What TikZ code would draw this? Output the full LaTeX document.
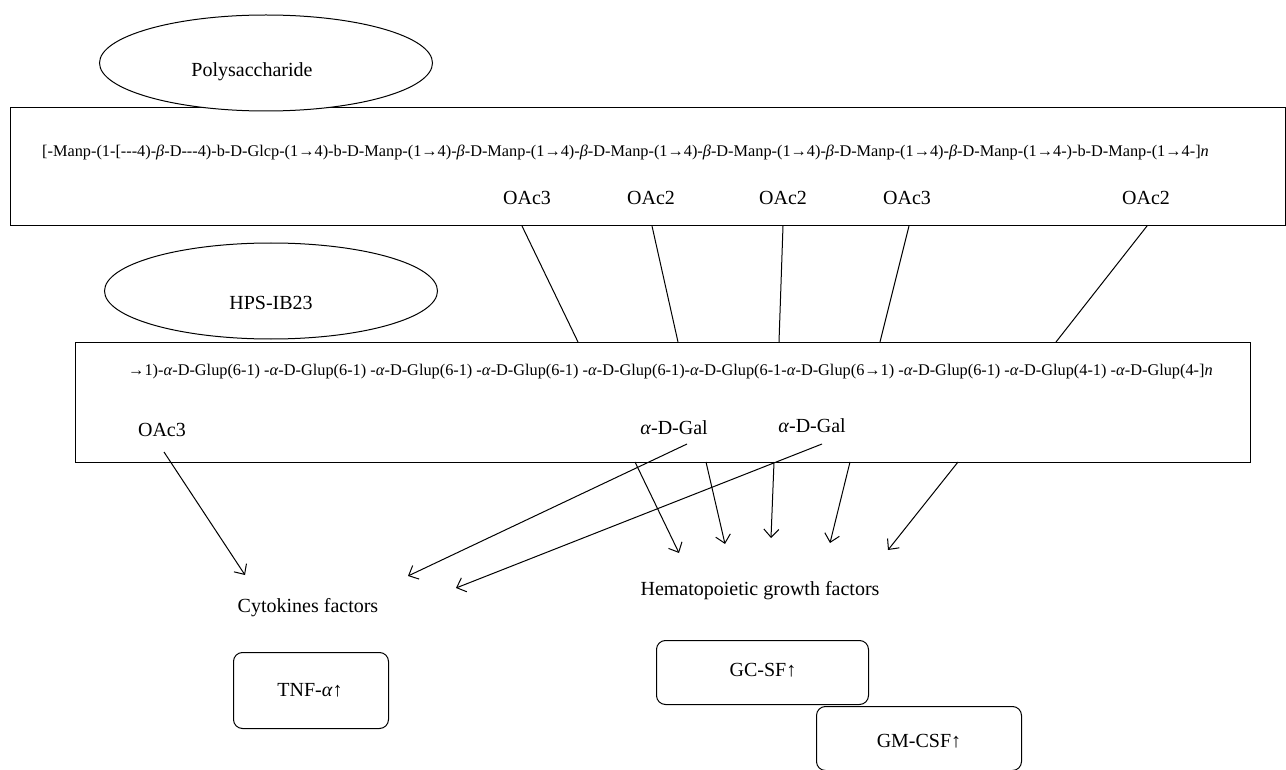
\documentclass[tikz,border=0pt]{standalone}
\usepackage{fontspec}
\setmainfont{Liberation Serif}
\newfontfamily\chainfont{Liberation Serif}
\usetikzlibrary{arrows.meta,shapes.geometric}
\begin{document}
\begin{tikzpicture}[x=1pt,y=-1pt,
  lbl/.style={font=\fontsize{20}{24}\selectfont, inner sep=0pt},
  chain/.style={font=\chainfont\fontsize{16.3}{18}\selectfont, inner sep=0pt, anchor=base west},
  box/.style={draw, line width=1pt, inner sep=0pt, anchor=north west},
  oval/.style={draw, ellipse, fill=white, line width=1pt, minimum width=333pt, minimum height=96pt, inner sep=0pt},
  rbox/.style={draw, rounded corners=9pt, line width=1pt, inner sep=0pt, anchor=north west},
  conn/.style={line width=1pt},
  arr/.style={line width=1pt, -{Straight Barb[length=8pt,width=15pt]}}
]
\useasboundingbox (0,0) rectangle (1286,770);

% top block
\node[box, minimum width=1275pt, minimum height=118pt] (r1) at (10,107) {};
\node[oval] (e1) at (266,63) {};
\node[lbl] (t1) at (252,72) {Polysaccharide};
\node[chain] (c1) at (42,157) {[-Manp-(1-[---4)-\textit{β}-D---4)-b-D-Glcp-(1→4)-b-D-Manp-(1→4)-\textit{β}-D-Manp-(1→4)-\textit{β}-D-Manp-(1→4)-\textit{β}-D-Manp-(1→4)-\textit{β}-D-Manp-(1→4)-\textit{β}-D-Manp-(1→4-)-b-D-Manp-(1→4-]\textit{n}};
\node[lbl] (o1) at (527,198) {OAc3};
\node[lbl] (o2) at (651,198) {OAc2};
\node[lbl] (o3) at (783,198) {OAc2};
\node[lbl] (o4) at (907,198) {OAc3};
\node[lbl] (o5) at (1146,198) {OAc2};

% second block
\node[box, minimum width=1175pt, minimum height=120pt] (r2) at (75,342) {};
\node[oval] (e2) at (271,291) {};
\node[lbl] (t2) at (271,303) {HPS-IB23};
\node[chain] (c2) at (128,375) {→1)-\textit{α}-D-Glup(6-1) -\textit{α}-D-Glup(6-1) -\textit{α}-D-Glup(6-1) -\textit{α}-D-Glup(6-1) -\textit{α}-D-Glup(6-1)-\textit{α}-D-Glup(6-1-\textit{α}-D-Glup(6→1) -\textit{α}-D-Glup(6-1) -\textit{α}-D-Glup(4-1) -\textit{α}-D-Glup(4-]\textit{n}};
\node[lbl] (h1) at (162,430) {OAc3};
\node[lbl] (g1) at (674,428) {\textit{α}-D-Gal};
\node[lbl] (g2) at (812,426) {\textit{α}-D-Gal};

% connectors top -> second
\coordinate (a1) at (522,226); \coordinate (b1) at (578,342);
\coordinate (a2) at (652,226); \coordinate (b2) at (678,342);
\coordinate (a3) at (783,226); \coordinate (b3) at (779,342);
\coordinate (a4) at (909,226); \coordinate (b4) at (880,342);
\coordinate (a5) at (1147,226); \coordinate (b5) at (1056,342);
\foreach \i in {1,...,5} \draw[conn] (a\i) -- (b\i);

% bottom labels and boxes
\node[lbl] (cyt) at (308,608) {Cytokines factors};
\node[lbl] (hem) at (760,591) {Hematopoietic growth factors};
\node[rbox, minimum width=155pt, minimum height=76pt] (tnf) at (233,652) {};
\node[lbl] (tnft) at (310,690) {TNF-\textit{α}↑};
\node[rbox, minimum width=212pt, minimum height=64pt] (gc) at (656,640) {};
\node[lbl] (gct) at (763,670) {GC-SF↑};
\node[rbox, minimum width=205pt, minimum height=64pt, fill=white] (gm) at (816,706) {};
\node[lbl] (gmt) at (919,741) {GM-CSF↑};

% arrows
\coordinate (s1) at (164,452); \coordinate (e1a) at (245,575);
\draw[arr] (s1) -- (e1a);
\coordinate (s2) at (687,444); \coordinate (e2a) at (408,576);
\draw[arr] (s2) -- (e2a);
\coordinate (s3) at (822,444); \coordinate (e3a) at (456,588);
\draw[arr] (s3) -- (e3a);
\coordinate (d1) at (635,462); \coordinate (f1) at (679,553);
\coordinate (d2) at (706,462); \coordinate (f2) at (725,544);
\coordinate (d3) at (774,462); \coordinate (f3) at (771,538);
\coordinate (d4) at (850,462); \coordinate (f4) at (830,543);
\coordinate (d5) at (958,462); \coordinate (f5) at (888,550);
\foreach \i in {1,...,5} \draw[arr] (d\i) -- (f\i);
\end{tikzpicture}
\end{document}
